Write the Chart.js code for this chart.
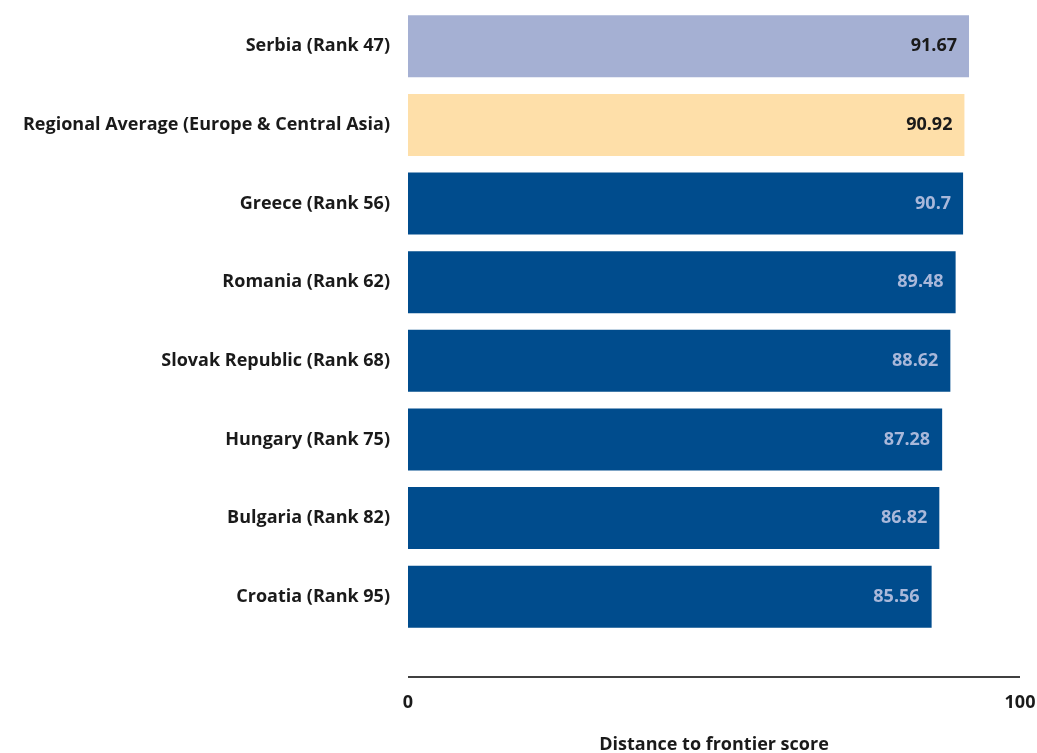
<!DOCTYPE html>
<html>
<head>
<meta charset="utf-8">
<script src="https://cdn.jsdelivr.net/npm/chart.js@4.4.1/dist/chart.umd.min.js"></script>
<style>
  html, body { margin: 0; padding: 0; background: #fff; }
  #wrap { width: 1037px; height: 753px; position: relative; }
</style>
</head>
<body>
<div id="wrap"><canvas id="chart"></canvas></div>
<script>
  // Distance to frontier scores
  const categories = [
    'Serbia (Rank 47)',
    'Regional Average (Europe & Central Asia)',
    'Greece (Rank 56)',
    'Romania (Rank 62)',
    'Slovak Republic (Rank 68)',
    'Hungary (Rank 75)',
    'Bulgaria (Rank 82)',
    'Croatia (Rank 95)'
  ];
  const scores = [91.67, 90.92, 90.7, 89.48, 88.62, 87.28, 86.82, 85.56];
  const scoreLabels = ['91.67', '90.92', '90.7', '89.48', '88.62', '87.28', '86.82', '85.56'];
  const xTicks = [0, 100];
  const axisTitle = 'Distance to frontier score';

  const FONT = "'Open Sans', 'DejaVu Sans', sans-serif";
  const barColors = ['#a5b0d3', '#fedfa9', '#004c8d', '#004c8d', '#004c8d', '#004c8d', '#004c8d', '#004c8d'];
  const labelColors = ['#1a1a1a', '#1a1a1a', '#a9b8da', '#a9b8da', '#a9b8da', '#a9b8da', '#a9b8da', '#a9b8da'];

  // value labels drawn inside the bar ends + the detached baseline
  const barValues = {
    id: 'barValues',
    afterDatasetsDraw(chart) {
      const ctx = chart.ctx;
      const meta = chart.getDatasetMeta(0);
      ctx.save();
      ctx.font = 'bold 18px ' + FONT;
      ctx.textAlign = 'right';
      ctx.textBaseline = 'middle';
      meta.data.forEach((bar, i) => {
        ctx.fillStyle = labelColors[i];
        ctx.fillText(scoreLabels[i], bar.x - 12, bar.y);
      });
      const area = chart.chartArea;
      ctx.strokeStyle = '#000';
      ctx.lineWidth = 1.5;
      ctx.beginPath();
      ctx.moveTo(area.left, area.bottom + 41);
      ctx.lineTo(area.right, area.bottom + 41);
      ctx.stroke();
      ctx.restore();
    }
  };

  new Chart(document.getElementById('chart'), {
    type: 'bar',
    data: {
      labels: categories,
      datasets: [{
        data: scores,
        backgroundColor: barColors,
        borderWidth: 0,
        barPercentage: 0.79,
        categoryPercentage: 1
      }]
    },
    options: {
      indexAxis: 'y',
      responsive: true,
      maintainAspectRatio: false,
      animation: false,
      layout: { padding: { top: 7, right: 17, bottom: 0, left: 0 } },
      plugins: {
        legend: { display: false },
        tooltip: { enabled: false }
      },
      scales: {
        x: {
          min: 0,
          max: 100,
          afterBuildTicks: (scale) => { scale.ticks = xTicks.map(v => ({ value: v })); },
          grid: { display: false, drawTicks: false },
          border: { display: false },
          ticks: {
            color: '#1a1a1a',
            font: { family: FONT, size: 18, weight: 'bold' },
            padding: 56,
            maxRotation: 0
          },
          title: {
            display: true,
            text: axisTitle,
            color: '#1a1a1a',
            font: { family: FONT, size: 18, weight: 'bold', lineHeight: 1 },
            padding: { top: 0, bottom: -1 }
          },
          afterFit: (scale) => {
            scale.height = 117;
            scale.paddingLeft = 0;
            scale.paddingRight = 0;
          }
        },
        y: {
          grid: { display: false, drawTicks: false },
          border: { display: false },
          ticks: {
            color: '#1a1a1a',
            font: { family: FONT, size: 18, weight: 'bold' },
            padding: 18
          },
          afterFit: (scale) => {
            scale.width = 408;
            scale.paddingTop = 0;
            scale.paddingBottom = 0;
          }
        }
      }
    },
    plugins: [barValues]
  });
</script>
</body>
</html>
